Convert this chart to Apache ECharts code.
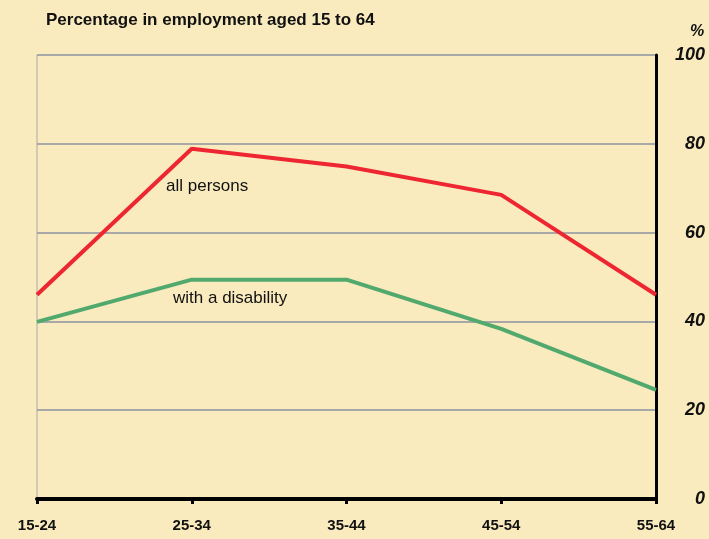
<!DOCTYPE html>
<html><head><meta charset="utf-8">
<script src="https://cdn.jsdelivr.net/npm/echarts@6/dist/echarts.min.js"></script>
<style>html,body{margin:0;padding:0;background:#FAEBBE;}#c{width:709px;height:539px;}</style>
</head><body><div id="c"></div>
<script>
var categories = ['15-24','25-34','35-44','45-54','55-64'];
var allPersons = [46.0, 78.9, 74.9, 68.5, 46.0];
var withDisability = [39.9, 49.4, 49.4, 38.3, 24.6];
var yTicks = [0, 20, 40, 60, 80, 100];

var chart = echarts.init(document.getElementById('c'));
var font = '"Liberation Sans", Arial, sans-serif';
chart.setOption({
  backgroundColor: '#FAEBBE',
  animation: false,
  title: {
    text: 'Percentage in employment aged 15 to 64',
    left: 41, top: 7,
    textStyle: {fontFamily: font, fontWeight: 'bold', fontSize: 17, color: '#111'}
  },
  grid: {left: 37, right: 53, top: 55, bottom: 40, show: true, borderColor: '#A8A8A8', borderWidth: 1, backgroundColor: 'transparent'},
  xAxis: {
    type: 'category', data: categories, boundaryGap: false,
    axisLine: {lineStyle: {color: '#000', width: 4}},
    axisTick: {show: true, length: 5, lineStyle: {color: '#000', width: 3}},
    axisLabel: {margin: 19, fontFamily: font, fontWeight: 'bold', fontSize: 15, color: '#111'},
    splitLine: {show: false}
  },
  yAxis: {
    type: 'value', position: 'right', min: yTicks[0], max: yTicks[yTicks.length-1], interval: 20,
    axisLine: {show: true, lineStyle: {color: '#000', width: 3}},
    axisTick: {show: false},
    axisLabel: {align: 'right', margin: 49, fontFamily: font, fontWeight: 'bold', fontStyle: 'italic', fontSize: 18, color: '#111'},
    splitLine: {show: true, lineStyle: {color: '#A8A8A8', width: 2}}
  },
  graphic: [
    {type: 'text', left: 690, top: 24, style: {text: '%', font: 'italic bold 16px ' + font, fill: '#111'}},
    {type: 'text', left: 166, top: 178, style: {text: 'all persons', font: '17px ' + font, fill: '#111'}},
    {type: 'text', left: 173, top: 290, style: {text: 'with a disability', font: '17px ' + font, fill: '#111'}}
  ],
  series: [
    {type: 'line', data: allPersons, symbol: 'none', lineStyle: {color: '#EE2631', width: 4}, z: 3},
    {type: 'line', data: withDisability, symbol: 'none', lineStyle: {color: '#52A96D', width: 4}, z: 3}
  ]
});
</script></body></html>
